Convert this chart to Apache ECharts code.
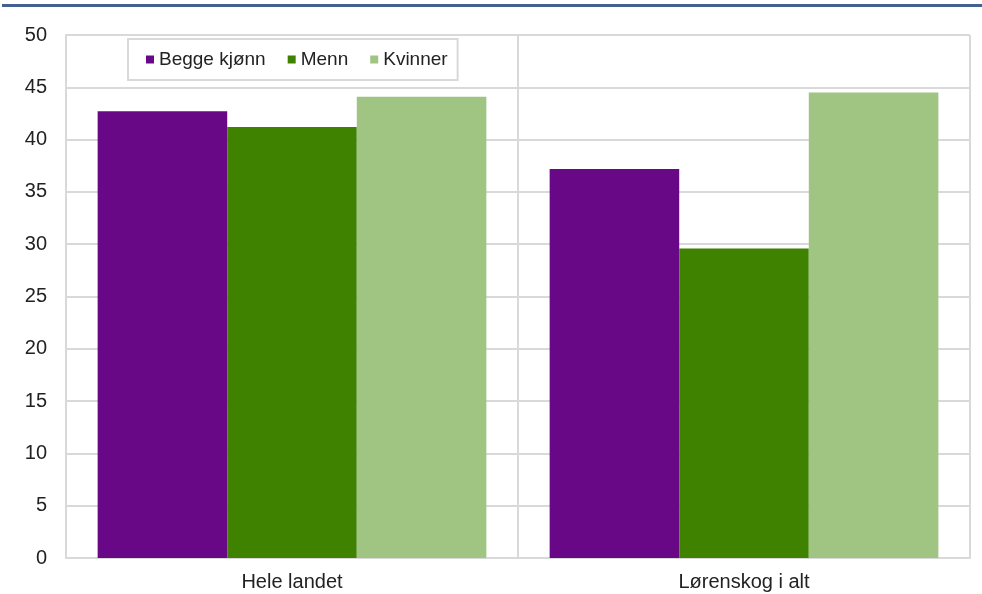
<!DOCTYPE html>
<html><head><meta charset="utf-8">
<script src="https://cdn.jsdelivr.net/npm/echarts@6/dist/echarts.min.js"></script>
<style>html,body{margin:0;padding:0;background:#fff}#c{width:982px;height:594px}</style>
</head><body><div id="c"></div>
<script>
const categories = ['Hele landet', 'Lørenskog i alt'];
const seriesNames = ['Begge kjønn', 'Menn', 'Kvinner'];
const begge = [42.7, 37.2];
const menn = [41.2, 29.6];
const kvinner = [44.1, 44.5];
const colors = ['#690887', '#3f8200', '#a0c482'];

const chart = echarts.init(document.getElementById('c'), null, {renderer: 'canvas'});
const font = '"Liberation Sans", Arial, sans-serif';
chart.setOption({
  animation: false,
  graphic: [{type: 'rect', shape: {x: 2, y: 4, width: 980, height: 3}, style: {fill: '#44608f'}}],
  grid: {left: 66, right: 12, top: 35, bottom: 36},
  legend: {
    left: 128, top: 39,
    data: [
      {name: seriesNames[0]},
      {name: seriesNames[1], textStyle: {width: 56}},
      {name: seriesNames[2]}
    ],
    icon: 'rect', itemWidth: 8, itemHeight: 8, itemGap: 22,
    padding: [11, 10, 11, 18],
    borderColor: '#d9d9d9', borderWidth: 2, backgroundColor: '#fff',
    textStyle: {fontFamily: font, fontSize: 19, color: '#222', padding: [0, 0, 0, 0]}
  },
  xAxis: {
    type: 'category', data: categories,
    axisLine: {lineStyle: {color: '#d9d9d9', width: 2}},
    axisTick: {show: false},
    splitLine: {show: true, lineStyle: {color: '#d9d9d9', width: 2}},
    axisLabel: {fontFamily: font, fontSize: 20, color: '#222', margin: 14}
  },
  yAxis: {
    type: 'value', min: 0, max: 50, interval: 5,
    axisLine: {show: true, lineStyle: {color: '#d9d9d9', width: 2}},
    axisTick: {show: false},
    splitLine: {lineStyle: {color: '#d9d9d9', width: 2}},
    axisLabel: {fontFamily: font, fontSize: 20, color: '#222', margin: 19}
  },
  series: [
    {name: seriesNames[0], type: 'bar', data: begge, itemStyle: {color: colors[0]}, barGap: '0%', barCategoryGap: '14%'},
    {name: seriesNames[1], type: 'bar', data: menn, itemStyle: {color: colors[1]}, barGap: '0%', barCategoryGap: '14%'},
    {name: seriesNames[2], type: 'bar', data: kvinner, itemStyle: {color: colors[2]}, barGap: '0%', barCategoryGap: '14%'}
  ]
});
</script></body></html>
